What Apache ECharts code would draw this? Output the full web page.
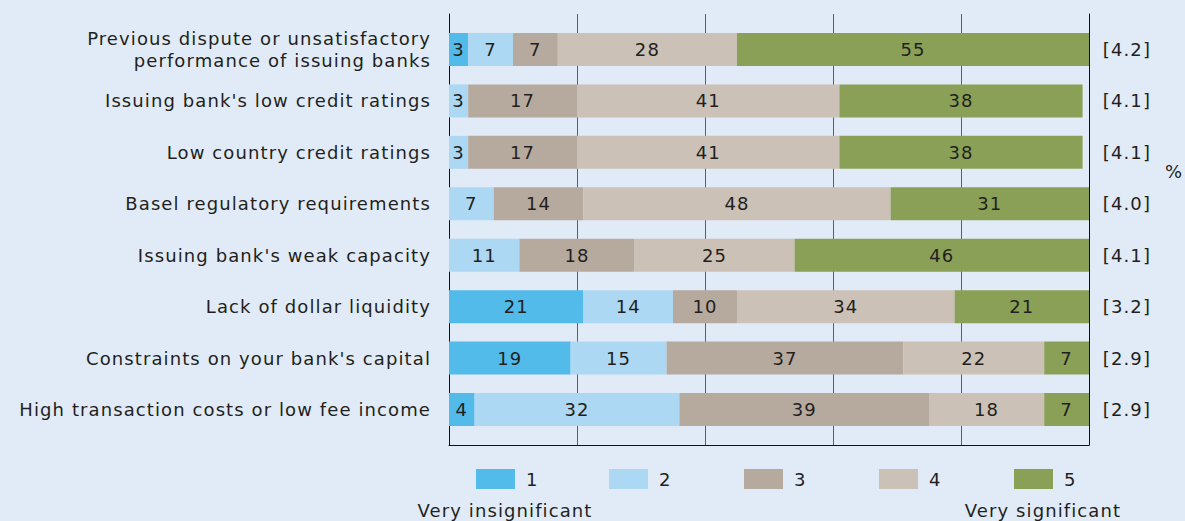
<!DOCTYPE html>
<html>
<head>
<meta charset="utf-8">
<script src="https://cdn.jsdelivr.net/npm/echarts@6/dist/echarts.min.js"></script>
<style>
  html, body { margin: 0; padding: 0; background: #e1ebf7; }
  #chart { width: 1185px; height: 521px; }
  /* slightly open tracking for all chart text */
  #chart svg text { letter-spacing: 1.1px; }
</style>
</head>
<body>
<div id="chart"></div>
<script>
// Reasons for rejecting confirmation requests, share of respondents by significance (1–5)
const categories = [
  'Previous dispute or unsatisfactory\nperformance of issuing banks',
  "Issuing bank's low credit ratings",
  'Low country credit ratings',
  'Basel regulatory requirements',
  "Issuing bank's weak capacity",
  'Lack of dollar liquidity',
  "Constraints on your bank's capital",
  'High transaction costs or low fee income'
];
const seriesNames = ['1', '2', '3', '4', '5'];
const level1 = [3, null, null, null, null, 21, 19, 4];
const level2 = [7, 3, 3, 7, 11, 14, 15, 32];
const level3 = [7, 17, 17, 14, 18, 10, 37, 39];
const level4 = [28, 41, 41, 48, 25, 34, 22, 18];
const level5 = [55, 38, 38, 31, 46, 21, 7, 7];
const averageScores = ['[4.2]', '[4.1]', '[4.1]', '[4.0]', '[4.1]', '[3.2]', '[2.9]', '[2.9]'];
const xTicks = [0, 20, 40, 60, 80, 100];

const colors = ['#52bbea', '#add8f3', '#b6aa9e', '#cbc1b6', '#8aa057'];
const textColor = '#231f20';
const fontFamily = '"DejaVu Sans", sans-serif';
const fontSize = 18;

const levels = [level1, level2, level3, level4, level5];

const chart = echarts.init(document.getElementById('chart'), null, { renderer: 'svg' });

const legendLefts = [476, 609, 744, 879, 1014];

const option = {
  backgroundColor: '#e1ebf7',
  animation: false,
  textStyle: { fontFamily: fontFamily, color: textColor },
  legend: seriesNames.map((n, i) => ({
    data: [n],
    left: legendLefts[i],
    top: 469,
    itemWidth: 39,
    itemHeight: 20,
    icon: 'rect',
    padding: 0,
    textStyle: { fontSize: fontSize, color: textColor, fontFamily: fontFamily, padding: [0, 0, 0, 6] }
  })),
  grid: [
    // bars
    { left: 449, width: 640, top: 23.8, height: 411.4 },
    // frame and vertical gridlines
    { left: 449, width: 640, top: 14, height: 431 }
  ],
  xAxis: [
    {
      gridIndex: 0, type: 'value', min: xTicks[0], max: xTicks[xTicks.length - 1], interval: 20,
      show: false
    },
    {
      gridIndex: 1, type: 'value', min: xTicks[0], max: xTicks[xTicks.length - 1], interval: 20,
      axisLine: { show: true, lineStyle: { color: '#111', width: 1 } },
      axisTick: { show: false },
      axisLabel: { show: false },
      splitLine: { show: true, showMinLine: false, showMaxLine: false, lineStyle: { color: '#5b5f66', width: 1 } }
    }
  ],
  yAxis: [
    {
      gridIndex: 0, type: 'category', data: categories, inverse: true,
      axisLine: { show: false }, axisTick: { show: false },
      axisLabel: { margin: 18, fontSize: fontSize, color: textColor, fontFamily: fontFamily, align: 'right', lineHeight: 22, padding: [0, 0, 2, 0] }
    },
    {
      gridIndex: 0, type: 'category', data: averageScores, inverse: true, position: 'right',
      axisLine: { show: false }, axisTick: { show: false },
      axisLabel: { margin: 62, fontSize: fontSize, color: textColor, fontFamily: fontFamily, align: 'right' }
    },
    {
      gridIndex: 1, type: 'value', min: 0, max: 1, position: 'left',
      axisLine: { show: true, lineStyle: { color: '#111', width: 1 } },
      axisTick: { show: false }, axisLabel: { show: false }, splitLine: { show: false }
    },
    {
      gridIndex: 1, type: 'value', min: 0, max: 1, position: 'right',
      axisLine: { show: true, lineStyle: { color: '#111', width: 1 } },
      axisTick: { show: false }, axisLabel: { show: false }, splitLine: { show: false }
    }
  ],
  series: seriesNames.map((n, i) => ({
    name: n,
    type: 'bar',
    stack: 'total',
    xAxisIndex: 0,
    yAxisIndex: 0,
    barWidth: 33,
    itemStyle: { color: colors[i] },
    label: {
      show: true, position: 'inside', fontSize: fontSize, color: textColor, fontFamily: fontFamily
    },
    data: levels[i]
  })),
  graphic: [
    { type: 'text', left: 1165, top: 162, style: { text: '%', fontSize: fontSize, fill: textColor, fontFamily: fontFamily } },
    { type: 'text', x: 505, y: 510, style: { text: 'Very insignificant', fontSize: fontSize, fill: textColor, fontFamily: fontFamily, align: 'center', verticalAlign: 'middle' } },
    { type: 'text', x: 1043, y: 510, style: { text: 'Very significant', fontSize: fontSize, fill: textColor, fontFamily: fontFamily, align: 'center', verticalAlign: 'middle' } }
  ]
};

chart.setOption(option);
</script>
</body>
</html>
